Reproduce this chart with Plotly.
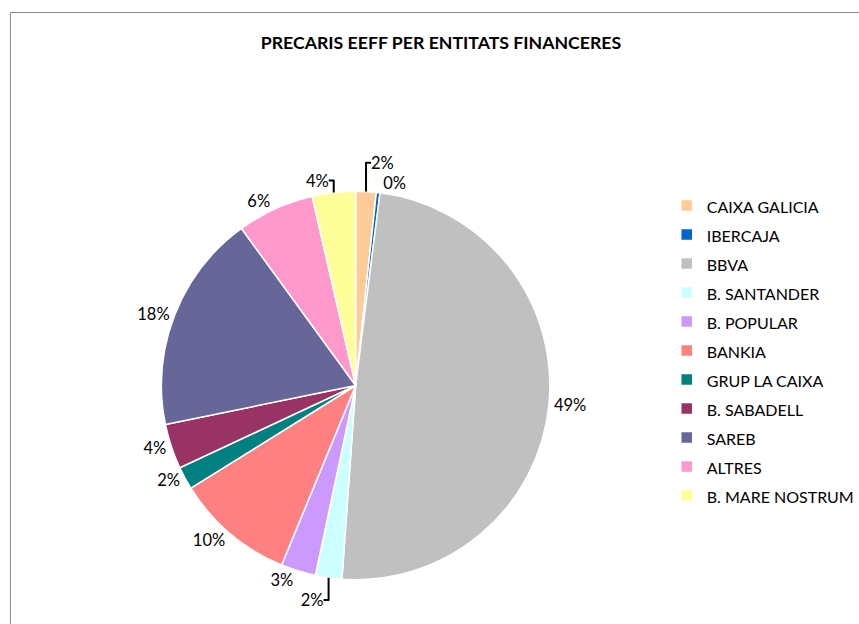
import plotly.graph_objects as go

labels = ["CAIXA GALICIA", "IBERCAJA", "BBVA", "B. SANTANDER", "B. POPULAR", "BANKIA",
          "GRUP LA CAIXA", "B. SABADELL", "SAREB", "ALTRES", "B. MARE NOSTRUM"]
values = [1.7, 0.3, 49.1, 2.2, 2.9, 9.9, 1.9, 3.75, 18.2, 6.4, 3.6]
colors = ["#FFCC99", "#0066CC", "#C0C0C0", "#CCFFFF", "#CC99FF", "#FF8080",
          "#008080", "#993366", "#666699", "#FF99CC", "#FFFF99"]

W, H = 859, 624
FONT = "Lato, 'Open Sans', sans-serif"

# legend text drawn smaller than the legend font so that entries get taller spacing
legend_names = [f"<span style='font-size:16px'>{l}</span>" for l in labels]

fig = go.Figure(go.Pie(
    labels=legend_names,
    values=values,
    sort=False,
    direction="clockwise",
    rotation=0,
    marker=dict(colors=colors, line=dict(color="white", width=1.5)),
    textposition="outside",
    texttemplate="%{percent:.0%}",
    textfont=dict(family=FONT, size=16.5, color="black"),
    hoverinfo="label+percent",
    domain=dict(x=[163/W, 555/W], y=[1 - 581.5/H, 1 - 189.5/H]),
))

fig.update_layout(
    width=W, height=H,
    margin=dict(l=0, r=0, t=0, b=0),
    paper_bgcolor="white",
    showlegend=True,
    title=dict(text="<b>PRECARIS EEFF PER ENTITATS FINANCERES</b>",
               x=441/W, xanchor="center", y=1 - 43/H, yanchor="middle",
               font=dict(family=FONT, size=17.7, color="black")),
    legend=dict(x=673/W, xanchor="left", y=1 - 186/H, yanchor="top",
                font=dict(family=FONT, size=20, color="black"),
                bgcolor="rgba(0,0,0,0)"),
    shapes=[dict(type="rect", xref="paper", yref="paper",
                 x0=10.5/W, x1=1.2, y0=-0.2, y1=1 - 12.5/H,
                 line=dict(color="#868686", width=1))],
)

fig.write_html("out.html", config={"displayModeBar": False},
               post_script="document.body.style.margin='0';")
